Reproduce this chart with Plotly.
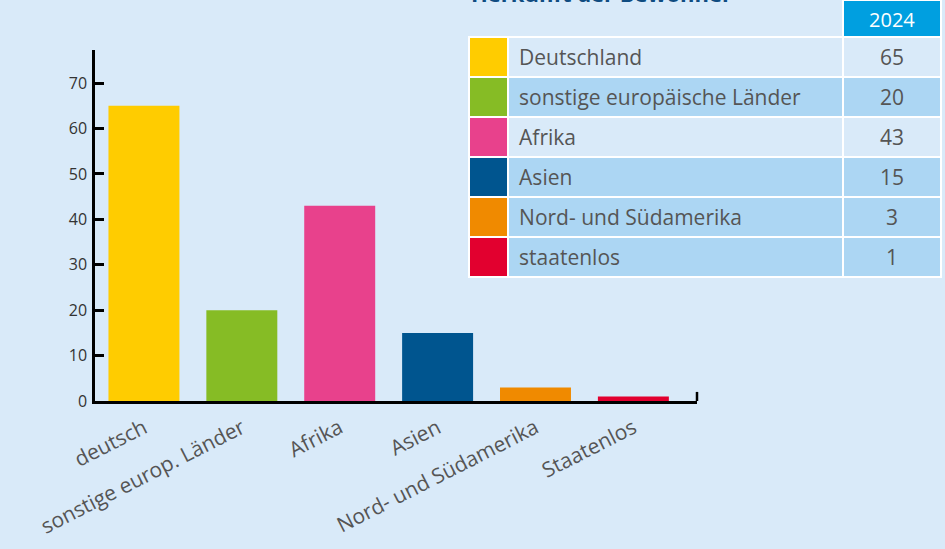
import plotly.graph_objects as go

# ---- data ----
categories = ["deutsch", "sonstige europ. Länder", "Afrika", "Asien",
              "Nord- und Südamerika", "Staatenlos"]
values = [65, 20, 43, 15, 3, 1]
bar_colors = ["#ffcc00", "#86bc25", "#e8418c", "#00558f", "#f08a00", "#e2002f"]
table_labels = ["Deutschland", "sonstige europäische Länder", "Afrika", "Asien",
                "Nord- und Südamerika", "staatenlos"]
table_year = "2024"
title_text = "Herkunft der Bewohner"
y_ticks = [0, 10, 20, 30, 40, 50, 60, 70]

BG = "#d9eaf9"
ROW_DARK = "#acd6f3"
NONE = "rgba(0,0,0,0)"
W, H = 945, 549

fig = go.Figure()

fig.add_trace(go.Bar(
    x=categories, y=values,
    marker=dict(color=bar_colors, line=dict(width=0)),
    width=0.725,
    showlegend=False,
    xaxis="x", yaxis="y",
))

row_fills = [BG, ROW_DARK, BG, ROW_DARK, ROW_DARK, ROW_DARK]
table_x = [469 / W, 941 / W]

# table body: fills and white rules
fig.add_trace(go.Table(
    domain=dict(x=table_x, y=[0.3, 1.0]),
    columnwidth=[39, 334, 98],
    header=dict(
        values=["", "", ""],
        fill=dict(color=[NONE, NONE, "#009fe0"]),
        line=dict(color=[NONE, NONE, "white"], width=2),
        height=37,
    ),
    cells=dict(
        values=[[""] * len(values)] * 3,
        fill=dict(color=[bar_colors, row_fills, row_fills]),
        line=dict(color="white", width=2.5),
        height=40,
    ),
))

# table texts: same grid, drawn a few pixels lower so they sit centred
fig.add_trace(go.Table(
    domain=dict(x=table_x, y=[0.3, 1.0 - 4 / H]),
    columnwidth=[42, 331, 98],
    header=dict(
        values=["", "", table_year],
        fill=dict(color=NONE),
        line=dict(color=NONE, width=0),
        font=dict(color="white", size=20, family="Open Sans"),
        align="center",
        height=37,
    ),
    cells=dict(
        values=[[""] * len(values), table_labels, [str(v) for v in values]],
        fill=dict(color=NONE),
        line=dict(color=NONE, width=0),
        align=["left", "left", "center"],
        font=dict(color="#555555", size=21, family="Open Sans"),
        height=40,
    ),
))

fig.add_shape(type="line", xref="x domain", x0=1, x1=1, yref="y", y0=0, y1=2,
              line=dict(color="black", width=2.5))

fig.add_annotation(
    text="<b>" + title_text + "</b>",
    xref="paper", yref="paper", x=469 / W, y=1 - 10 / H,
    xanchor="left", yanchor="bottom", showarrow=False,
    font=dict(family="Open Sans", size=22, color="#0f4c81"),
)

fig.update_layout(
    width=W, height=H, autosize=False,
    margin=dict(l=0, r=0, t=0, b=0, autoexpand=False),
    paper_bgcolor=BG, plot_bgcolor=BG,
    font=dict(family="Open Sans"),
    bargap=0.275,
    xaxis=dict(
        domain=[95 / W, 697 / W],
        range=[-0.5, 5.65],
        showline=True, linecolor="black", linewidth=2.5,
        ticks="", tickangle=-27, ticklabelstandoff=4,
        tickfont=dict(size=21, color="#555555", family="Open Sans"),
        showgrid=False, zeroline=False, fixedrange=True, automargin=False,
    ),
    yaxis=dict(
        domain=[(H - 401) / H, (H - 50) / H],
        range=[0, 77.3],
        tickvals=y_ticks,
        showline=True, linecolor="black", linewidth=2.5,
        ticks="inside", ticklen=9, tickwidth=2.5, tickcolor="black",
        ticklabelstandoff=2,
        tickfont=dict(size=16, color="#333333", family="Open Sans"),
        showgrid=False, zeroline=False, fixedrange=True, automargin=False,
    ),
)

post = ("document.body.style.margin='0';document.body.style.padding='0';"
        "document.body.style.overflow='hidden';"
        "var gd=document.getElementById('{plot_id}');"
        "Plotly.relayout(gd,{width:945,height:549});")

fig.write_html("out.html", post_script=post,
               config={"responsive": False, "displayModeBar": False})
